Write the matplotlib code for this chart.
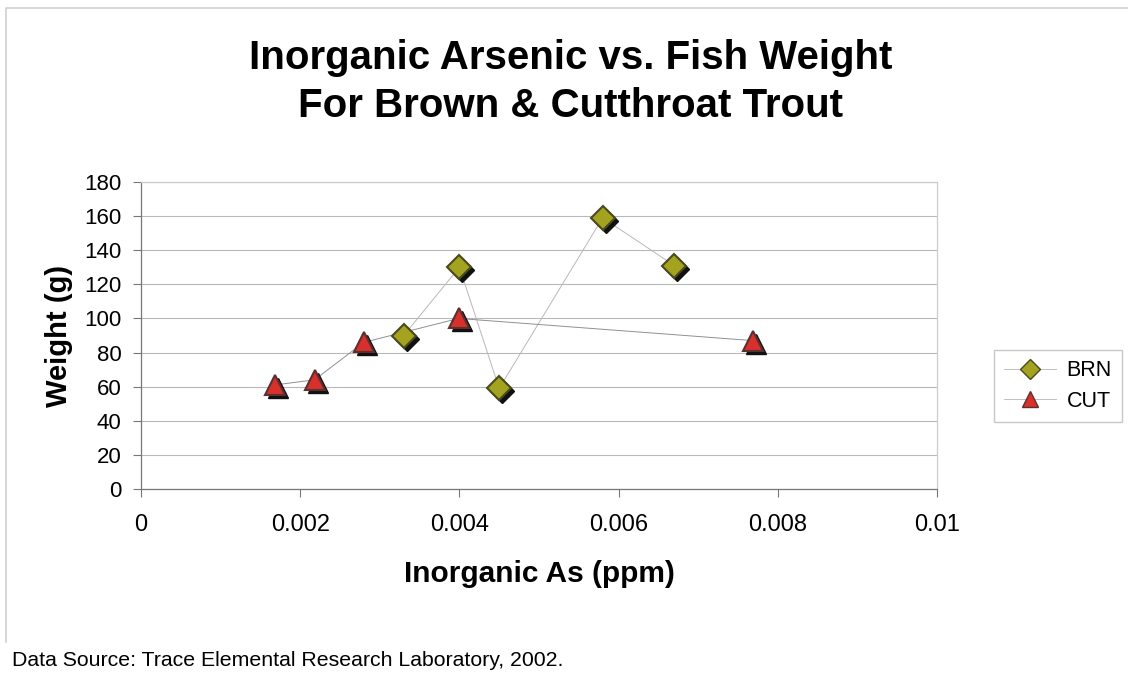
import matplotlib.pyplot as plt
import matplotlib.transforms as mtransforms
from matplotlib.lines import Line2D

# data
brn_as = [0.0033, 0.0040, 0.0045, 0.0058, 0.0067]
brn_wt = [90, 130, 59, 159, 131]
cut_as = [0.00168, 0.00218, 0.00280, 0.00399, 0.00769]
cut_wt = [61, 64, 86, 100, 87]

x_ticks = [0, 0.002, 0.004, 0.006, 0.008, 0.01]
x_labels = ["0", "0.002", "0.004", "0.006", "0.008", "0.01"]
y_ticks = list(range(0, 181, 20))

plt.rcParams['font.family'] = ['Liberation Sans', 'DejaVu Sans']

W, H = 1128, 675
fig = plt.figure(figsize=(W / 100, H / 100), dpi=100)
ax = fig.add_axes([141 / W, 1 - 489 / H, (937 - 141) / W, (489 - 182) / H])

# outer chart frame (only top and left edges show in the scan)
fig.add_artist(Line2D([6 / W, 6 / W, 1.0], [1 - 642 / H, 1 - 8 / H, 1 - 8 / H],
                      transform=fig.transFigure, color='#d0d0d0', lw=1.2))

brn_col = '#a3a31f'
cut_col = '#d9302b'

shadow = mtransforms.offset_copy(ax.transData, fig=fig, x=3, y=-3, units='dots')

ax.plot(brn_as, brn_wt, color='#b8b8b8', lw=0.7, zorder=2)
ax.plot(cut_as, cut_wt, color='#909090', lw=0.7, zorder=2)

ax.plot(brn_as, brn_wt, ls='none', marker='D', ms=12, color='#111111',
        transform=shadow, zorder=3)
ax.plot(cut_as, cut_wt, ls='none', marker='^', ms=15, color='#111111',
        transform=shadow, zorder=3)
ax.plot(brn_as, brn_wt, ls='none', marker='D', ms=12, mfc=brn_col,
        mec='#4a4a20', mew=1.5, zorder=4)
ax.plot(cut_as, cut_wt, ls='none', marker='^', ms=15, mfc=cut_col,
        mec='#5a3030', mew=1.5, zorder=4)

ax.set_xlim(0, 0.01)
ax.set_ylim(0, 180)
ax.set_xticks(x_ticks)
ax.set_xticklabels(x_labels)
ax.set_yticks(y_ticks)
ax.tick_params(axis='both', color='#777777', length=6, width=0.8)
ax.tick_params(axis='x', labelsize=17, pad=12)
ax.tick_params(axis='y', labelsize=16, pad=8)
ax.grid(axis='y', color='#b8b8b8', lw=0.8)
ax.set_axisbelow(True)
for side in ['left', 'bottom']:
    ax.spines[side].set_color('#777777')
    ax.spines[side].set_linewidth(0.9)
for side in ['top', 'right']:
    ax.spines[side].set_color('#cccccc')
    ax.spines[side].set_linewidth(0.9)

ax.set_xlabel("Inorganic As (ppm)", fontsize=21.5, fontweight='bold', labelpad=17)
ax.set_ylabel("Weight (g)", fontsize=21, fontweight='bold', labelpad=8)

fig.text(571 / W, 1 - 82 / H, "Inorganic Arsenic vs. Fish Weight\nFor Brown & Cutthroat Trout",
         ha='center', va='center', fontsize=29, fontweight='bold', linespacing=1.32)

handles = [
    Line2D([], [], color='#c0c0c0', lw=0.7, marker='D', ms=10, mfc=brn_col, mec='#4a4a20'),
    Line2D([], [], color='#c0c0c0', lw=0.7, marker='^', ms=12, mfc=cut_col, mec='#5a3030'),
]
fig.legend(handles, ["BRN", "CUT"], loc='center', bbox_to_anchor=(1058 / W, 1 - 386 / H),
           fontsize=15.5, frameon=True, fancybox=False, edgecolor='#bbbbbb',
           handlelength=2.4, labelspacing=0.45, borderpad=0.45, handletextpad=0.5)

fig.text(12 / W, 1 - 660 / H, "Data Source: Trace Elemental Research Laboratory, 2002.",
         ha='left', va='center', fontsize=15.3)

fig.savefig("out.png", dpi=100)
